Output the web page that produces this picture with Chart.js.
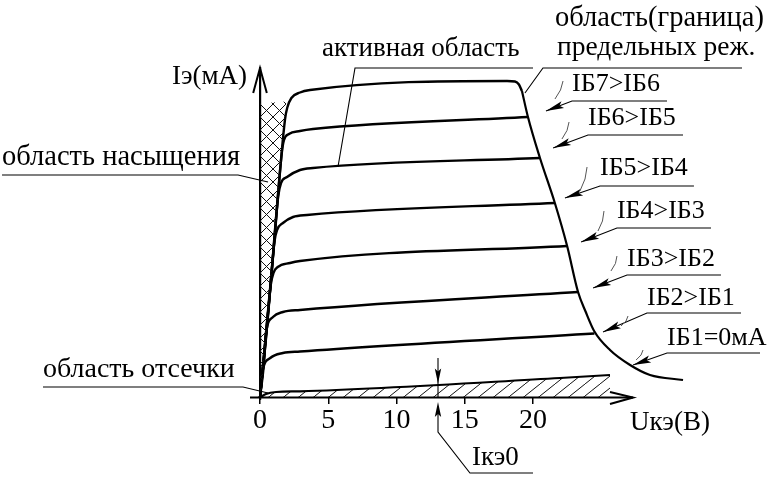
<!DOCTYPE html>
<html><head><meta charset="utf-8">
<script src="https://cdn.jsdelivr.net/npm/chart.js@4.4.1/dist/chart.umd.min.js"></script>
<style>html,body{margin:0;padding:0;background:#fff;}canvas{display:block;}</style>
</head><body>
<canvas id="c" width="773" height="478"></canvas>
<script>
// ---------- data (x: Uкэ, В ; y: Iэ, мА) ----------
const xTickValues = [0, 5, 10, 15, 20];
const xTitle = 'Uкэ(В)';
const yTitle = 'Iэ(мА)';
const seriesNames = ['IБ1=0мА', 'IБ2>IБ1', 'IБ3>IБ2', 'IБ4>IБ3', 'IБ5>IБ4', 'IБ6>IБ5', 'IБ7>IБ6'];
const regionNames = ['область насыщения', 'активная область', 'область отсечки', 'область(граница)', 'предельных реж.', 'Iкэ0'];

const cutoffCurve = [[0,0],[0.44,0.35],[1.17,0.55],[2.93,0.62],[21.98,1.95],[25.64,2.25]];
const curveIb2 = [[0,0],[0.2,2.7],[0.75,3.95],[1.68,4.45],[2.93,4.6],[24.5,6.4]];
const curveIb3 = [[0,0],[0.28,3.25],[0.45,6.5],[0.95,8.05],[1.68,8.55],[2.93,8.75],[23.3,10.55]];
const curveIb4 = [[0,0],[0.42,5.6],[0.78,11.2],[1.0,12.5],[1.3,13.05],[2.2,13.45],[2.93,13.65],[22.5,15.15]];
const curveIb5 = [[0,0],[0.56,7.75],[1.05,15.5],[1.25,16.75],[1.68,17.45],[2.42,18.05],[3.44,18.25],[21.6,19.45]];
const curveIb6 = [[0,0],[0.7,10.05],[1.33,20.1],[1.54,21.45],[1.98,22.05],[2.93,22.75],[3.88,22.95],[20.51,23.95]];
const curveIb7 = [[0,0],[0.84,12.25],[1.6,24.5],[1.76,25.75],[2.12,26.35],[2.93,26.65],[3.88,26.85],[19.63,28.05]];
const curveIb8 = [[0,0],[0.94,13.9],[1.83,27.8],[2.0,29.0],[2.3,29.95],[2.93,30.5],[3.66,30.75],[18.1,31.65],[18.68,31.6],[18.97,31.3],[19.19,30.65]];
const limitCurve = [[19.19,30.65],[19.63,28.05],[20.51,23.95],[21.6,19.45],[22.5,15.15],[23.3,10.55],[23.85,8.6],[24.5,6.6],[25.64,4.75],[27.11,3.25],[28.57,2.25],[30.99,1.75]];
const saturationRegion = [[0,0],[0,29.4],[1.92,29.6],[0.07,0]];

// ---------- layout / styling ----------
const FONT = '"Liberation Serif", serif';
function pattern(w, h, both) {
  const c = document.createElement('canvas'); c.width = w; c.height = h;
  const g = c.getContext('2d');
  g.strokeStyle = '#111'; g.lineWidth = 1;
  g.beginPath();
  g.moveTo(0, h); g.lineTo(w, 0);
  g.moveTo(-w, h); g.lineTo(0, 0); g.moveTo(w, h); g.lineTo(2*w, 0);
  if (both) { g.moveTo(0, 0); g.lineTo(w, h); g.moveTo(-w, 0); g.lineTo(0, h); g.moveTo(w, 0); g.lineTo(2*w, h); }
  g.stroke();
  return g.createPattern(c, 'repeat');
}
const toXY = a => a.map(p => ({x: p[0], y: p[1]}));
const curveStyle = {showLine: true, pointRadius: 0, borderColor: '#000', borderWidth: 2.4, cubicInterpolationMode: 'monotone', clip: false, fill: false};

const datasets = [
  {data: toXY(saturationRegion), showLine: true, pointRadius: 0, borderWidth: 0, borderColor: 'rgba(0,0,0,0)', fill: 'shape', backgroundColor: pattern(13, 13, true), tension: 0},
  Object.assign({}, curveStyle, {data: toXY(cutoffCurve), borderWidth: 2.2, fill: 'origin', backgroundColor: pattern(15, 12, false)}),
  Object.assign({}, curveStyle, {data: toXY(curveIb2)}),
  Object.assign({}, curveStyle, {data: toXY(curveIb3)}),
  Object.assign({}, curveStyle, {data: toXY(curveIb4)}),
  Object.assign({}, curveStyle, {data: toXY(curveIb5)}),
  Object.assign({}, curveStyle, {data: toXY(curveIb6)}),
  Object.assign({}, curveStyle, {data: toXY(curveIb7)}),
  Object.assign({}, curveStyle, {data: toXY(curveIb8)}),
  Object.assign({}, curveStyle, {data: toXY(limitCurve), borderWidth: 2.2})
];

// annotation geometry, in axis units: [text, x, y, font size]
const xAxisEnds = [-0.733, 27.33];
const texts = [
  [yTitle, -6.45, 31.35, 27],
  [regionNames[0], -18.9, 23.25, 28.5],
  [regionNames[2], -15.9, 2.05, 28],
  [regionNames[1], 4.54, 34.15, 27],
  [regionNames[3], 21.61, 37.15, 28.5],
  [regionNames[4], 21.76, 34.25, 27.5],
  [xTitle, 27.11, -3.25, 27],
  [regionNames[5], 15.53, -6.75, 27]
];
const seriesFont = 26;
const seriesLabelPos = [[29.82,5.25],[28.35,9.25],[26.89,13.15],[26.15,17.95],[24.91,22.25],[24.03,27.25],[22.86,30.65]];
const seriesArrows = [ // [underline right, underline left, tip]
  [[36.63,4.45],[29.82,4.45],[27.33,3.25]],
  [[35.24,8.45],[28.35,8.45],[25.13,6.55]],
  [[33.77,12.25],[26.89,12.25],[24.40,10.95]],
  [[33.04,16.95],[26.15,16.95],[23.52,15.55]],
  [[31.79,21.15],[24.91,21.15],[22.34,19.95]],
  [[30.99,26.25],[24.03,26.25],[21.47,24.95]],
  [[29.82,29.65],[22.86,29.65],[20.95,28.65]]
];
const seriesArcs = [
  [[28.06,4.75],[27.55,3.75]],[[26.96,8.15],[26.45,7.15]],[[26.15,14.15],[25.71,12.65]],
  [[25.2,18.65],[24.76,16.65]],[[23.96,23.05],[23.44,20.65]],[[22.64,27.55],[22.12,25.85]],[[22.2,31.65],[21.61,29.85]]
];
const leaders = [
  [[-18.9,22.25],[-1.61,22.25],[0.586,21.55]],
  [[-15.9,1.05],[-1.245,1.05],[0.586,0.45]],
  [[20.0,32.95],[6.96,32.95],[5.71,23.05]],
  [[35.31,32.95],[20.73,32.95],[19.41,30.45]],
  [[20.0,-7.55],[15.38,-7.55],[13.04,-3.45],[13.04,-1.0]],
  [[13.04,3.95],[13.04,0]]
];
const arrowHeads = [ // [from, tip]
  [[13.04,-3.45],[13.04,-0.45]],
  [[13.04,3.95],[13.04,1.4]]
];

const annotPlugin = {
  id: 'annot',
  afterDraw(chart) {
    const {ctx} = chart; const sx = chart.scales.x, sy = chart.scales.y;
    const P = p => [sx.getPixelForValue(p[0]), sy.getPixelForValue(p[1])];
    ctx.save();
    ctx.strokeStyle = '#000'; ctx.fillStyle = '#000'; ctx.lineJoin = 'miter';
    const poly = (pts, w) => { ctx.lineWidth = w; ctx.beginPath(); pts.forEach((p, k) => { const q = P(p); k ? ctx.lineTo(q[0], q[1]) : ctx.moveTo(q[0], q[1]); }); ctx.stroke(); };
    const head = (from, tip, len, hw) => {
      const a = P(from), b = P(tip); const dx = b[0]-a[0], dy = b[1]-a[1]; const L = Math.hypot(dx, dy); const ux = dx/L, uy = dy/L;
      ctx.beginPath(); ctx.moveTo(b[0], b[1]);
      ctx.lineTo(b[0]-ux*len - uy*hw, b[1]-uy*len + ux*hw);
      ctx.lineTo(b[0]-ux*len*0.8, b[1]-uy*len*0.8);
      ctx.lineTo(b[0]-ux*len + uy*hw, b[1]-uy*len - ux*hw);
      ctx.closePath(); ctx.fill();
    };
    // x axis line and axis arrows (open)
    poly([[xAxisEnds[0],0],[xAxisEnds[1],0]], 2.2);
    poly([[-0.5,30.45],[0,32.95],[0.5,30.45]], 2);
    poly([[25.64,0.55],[27.33,0],[25.64,-0.65]], 2);
    // leaders
    leaders.forEach(l => poly(l, 1.1));
    arrowHeads.forEach(a => head(a[0], a[1], 15, 3.2));
    // series labels with arrows
    seriesArrows.forEach(a => { poly([a[0], a[1], a[2]], 1.1); head(a[1], a[2], 18, 3.6); });
    ctx.strokeStyle = '#555';
    seriesArcs.forEach(a => { const p = P(a[0]), q = P(a[1]); ctx.lineWidth = 1; ctx.beginPath(); ctx.moveTo(p[0], p[1]); ctx.quadraticCurveTo((p[0]+q[0])/2 + 3, (p[1]+q[1])/2, q[0], q[1]); ctx.stroke(); });
    // texts
    ctx.textBaseline = 'alphabetic'; ctx.textAlign = 'left';
    texts.forEach(t => { ctx.font = t[3] + 'px ' + FONT; const q = P([t[1], t[2]]); ctx.fillText(t[0], q[0], q[1]); });
    ctx.font = seriesFont + 'px ' + FONT;
    seriesNames.forEach((n, k) => { const q = P(seriesLabelPos[k]); ctx.fillText(n, q[0], q[1]); });
    ctx.restore();
  }
};

new Chart(document.getElementById('c'), {
  type: 'scatter',
  data: {datasets},
  plugins: [annotPlugin],
  options: {
    responsive: false, animation: false, devicePixelRatio: 1,
    layout: {padding: {left: 250, right: 0, top: 68, bottom: 79}},
    plugins: {legend: {display: false}, tooltip: {enabled: false}, title: {display: false}},
    elements: {point: {radius: 0}},
    scales: {
      x: {
        type: 'linear', min: -0.733, max: 37.582, position: {y: 0},
        grid: {drawOnChartArea: false, drawTicks: true, tickLength: 6, color: '#000', lineWidth: 1.5},
        border: {display: false},
        ticks: {color: '#000', padding: 0, autoSkip: false, maxRotation: 0, font: {family: FONT, size: 28}},
        afterBuildTicks: s => { s.ticks = xTickValues.map(v => ({value: v})); }
      },
      y: {
        type: 'linear', min: -0.15, max: 32.95, position: {x: 0},
        grid: {drawOnChartArea: false, drawTicks: false},
        border: {display: true, color: '#000', width: 2.2},
        ticks: {display: false}
      }
    }
  }
});
</script>
</body></html>
